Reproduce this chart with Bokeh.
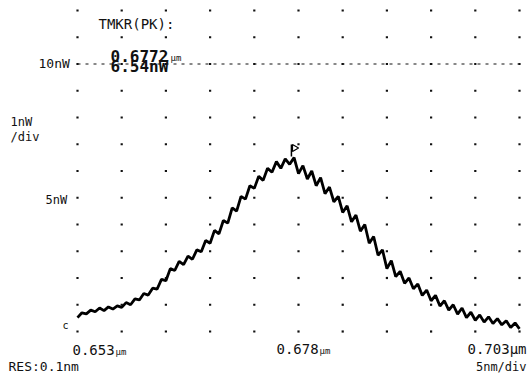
from bokeh.plotting import figure
from bokeh.models import Label, Range1d
from bokeh.embed import file_html
from bokeh.resources import INLINE
import numpy as np

# ---- data ----
wavelength_nm = [653.0 + 0.5 * i for i in range(101)]
power_nW = [
    0.52, 0.70, 0.66, 0.80, 0.74, 0.88, 0.78, 0.92, 0.84, 0.96,
    0.90, 1.08, 1.00, 1.22, 1.18, 1.42, 1.36, 1.62, 1.58, 1.95,
    1.90, 2.35, 2.28, 2.62, 2.50, 2.82, 2.70, 3.05, 2.98, 3.40,
    3.30, 3.78, 3.65, 4.15, 4.05, 4.62, 4.50, 5.05, 4.95, 5.45,
    5.35, 5.80, 5.65, 6.10, 5.95, 6.35, 6.10, 6.45, 6.25, 6.50,
    5.90, 6.20, 5.70, 6.00, 5.45, 5.75, 5.15, 5.40, 4.85, 5.05,
    4.45, 4.70, 4.10, 4.35, 3.75, 4.00, 3.30, 3.55, 2.85, 3.05,
    2.35, 2.65, 2.05, 2.25, 1.80, 2.00, 1.60, 1.78, 1.35, 1.55,
    1.15, 1.35, 0.95, 1.15, 0.80, 1.00, 0.65, 0.88, 0.52, 0.72,
    0.42, 0.62, 0.35, 0.55, 0.30, 0.48, 0.25, 0.40, 0.15, 0.32,
    0.10,
]
x_grid_ticks = [653, 658, 663, 668, 673, 678, 683, 688, 693, 698, 703]
y_grid_ticks = list(range(0, 13))
ref_level_nW = 10
marker_wl = 677.2
marker_pw = 6.54

x_tick_labels = ["0.653", "0.678", "0.703"]
FONT = "DejaVu Sans Mono"
INK = "#111111"

W, H = 528, 374
# graticule placement on the page (pixels)
GL, GR, GT, GB = 77, 519, 10, 331
xs = (GR - GL) / (x_grid_ticks[-1] - x_grid_ticks[0])
ys = (GB - GT) / (y_grid_ticks[-1] - y_grid_ticks[0])
x_range = Range1d(x_grid_ticks[0] - GL / xs, x_grid_ticks[-1] + (W - GR) / xs)
y_range = Range1d(y_grid_ticks[0] - (H - GB) / ys, y_grid_ticks[-1] + GT / ys)

p = figure(width=W, height=H, output_backend="svg", toolbar_location=None,
           x_range=x_range, y_range=y_range,
           min_border=0)
p.xaxis.visible = False
p.yaxis.visible = False
p.xgrid.visible = False
p.ygrid.visible = False
p.outline_line_color = None
p.background_fill_color = "white"
p.border_fill_color = "white"

# dotted graticule: dots at every division intersection
gx, gy = np.meshgrid(x_grid_ticks, y_grid_ticks)
p.scatter(gx.ravel(), gy.ravel(), marker="square", size=2.2,
          fill_color=INK, line_color=None)

# reference level dashed line
p.line([x_grid_ticks[0], x_grid_ticks[-1]], [ref_level_nW, ref_level_nW],
       line_color=INK, line_width=1, line_dash="3 5")

# trace
p.line(wavelength_nm, power_nW, line_color="black", line_width=2.8)

# peak marker flag
p.segment([marker_wl], [marker_pw], [marker_wl], [marker_pw + 0.45],
          line_color="black", line_width=1.5)
p.scatter([marker_wl + 0.35], [marker_pw + 0.32], marker="triangle",
          angle=-np.pi / 2, size=7, fill_color=None, line_color="black",
          line_width=1.2)


def lab(text, x, y, size, align="left", bold=False):
    # x, y: page pixels from the top-left corner
    p.add_layout(Label(x=x, y=H - y, x_units="screen", y_units="screen",
                       text=text, text_font=FONT,
                       text_font_size=f"{size}px", text_color=INK,
                       text_align=align, text_baseline="middle",
                       text_font_style="bold" if bold else "normal"))


lab("TMKR(PK):", 98, 23, 14)
lab("0.6772", 110, 55, 16, bold=True)
lab("μm", 170, 57, 9)
lab("6.54nW", 110, 66, 16, bold=True)
lab("10nW", 38, 63, 13)
lab("1nW", 10, 121, 12)
lab("/div", 10, 136, 12)
lab("5nW", 45, 199, 12)
lab("c", 62, 325, 10)

lab(x_tick_labels[0], 72, 349, 14)
lab("μm", 115, 351, 9)
lab(x_tick_labels[1], 276, 348, 14)
lab("μm", 319, 350, 9)
lab(x_tick_labels[2] + "μm", 526, 348, 14, align="right")
lab("RES:0.1nm", 8, 366, 13)
lab("5nm/div", 526, 366, 12, align="right")

open("out.html", "w").write(file_html(p, INLINE))
